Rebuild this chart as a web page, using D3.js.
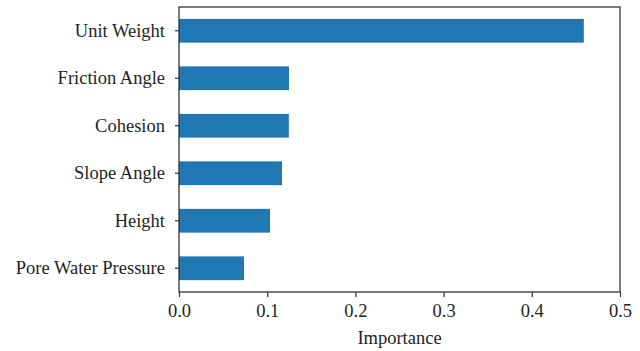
<!DOCTYPE html>
<html>
<head>
<meta charset="utf-8">
<script src="https://cdn.jsdelivr.net/npm/d3@7"></script>
<style>
  html, body { margin: 0; padding: 0; background: #fff; }
  svg text { font-family: "Liberation Serif", "DejaVu Serif", serif; fill: #231f20; }
</style>
</head>
<body>
<svg id="chart" width="640" height="351"></svg>
<script>
// Feature importance values, top to bottom
const features = ["Unit Weight", "Friction Angle", "Cohesion", "Slope Angle", "Height", "Pore Water Pressure"];
const importance = [0.459, 0.1247, 0.1245, 0.1168, 0.1032, 0.0737];
const xTicks = [0.0, 0.1, 0.2, 0.3, 0.4, 0.5];
const xTitle = "Importance";

const svg = d3.select("#chart");
const margin = { left: 179, right: 20, top: 7, bottom: 59 };
const W = 640, H = 351;
const iw = W - margin.left - margin.right;
const ih = H - margin.top - margin.bottom;
const fontSize = 18.5;

const g = svg.append("g").attr("transform", `translate(${margin.left},${margin.top})`);

const x = d3.scaleLinear().domain([0, 0.5]).range([0, iw]);
const y = d3.scaleBand().domain(features).range([0, ih]).paddingInner(0.5).paddingOuter(0.25);

g.selectAll("rect.bar")
  .data(features)
  .join("rect")
  .attr("class", "bar")
  .attr("x", x(0))
  .attr("y", d => y(d))
  .attr("width", (d, i) => x(importance[i]) - x(0))
  .attr("height", y.bandwidth())
  .attr("fill", "#1f77b4");

// frame
g.append("rect")
  .attr("x", 0).attr("y", 0).attr("width", iw).attr("height", ih)
  .attr("fill", "none").attr("stroke", "#333").attr("stroke-width", 1.3);

const xAxis = g.append("g")
  .attr("transform", `translate(0,${ih})`)
  .call(d3.axisBottom(x).tickValues(xTicks).tickFormat(d3.format(".1f")).tickSize(5).tickPadding(7));
const yAxis = g.append("g")
  .call(d3.axisLeft(y).tickSize(4).tickPadding(10));

[xAxis, yAxis].forEach(a => {
  a.select(".domain").remove();
  a.selectAll(".tick line").attr("stroke", "#333").attr("stroke-width", 1.2);
  a.selectAll(".tick text").attr("font-size", fontSize).attr("font-family", "Liberation Serif");
});

g.append("text")
  .attr("x", iw / 2)
  .attr("y", ih + 52)
  .attr("text-anchor", "middle")
  .attr("font-size", fontSize)
  .text(xTitle);
</script>
</body>
</html>
